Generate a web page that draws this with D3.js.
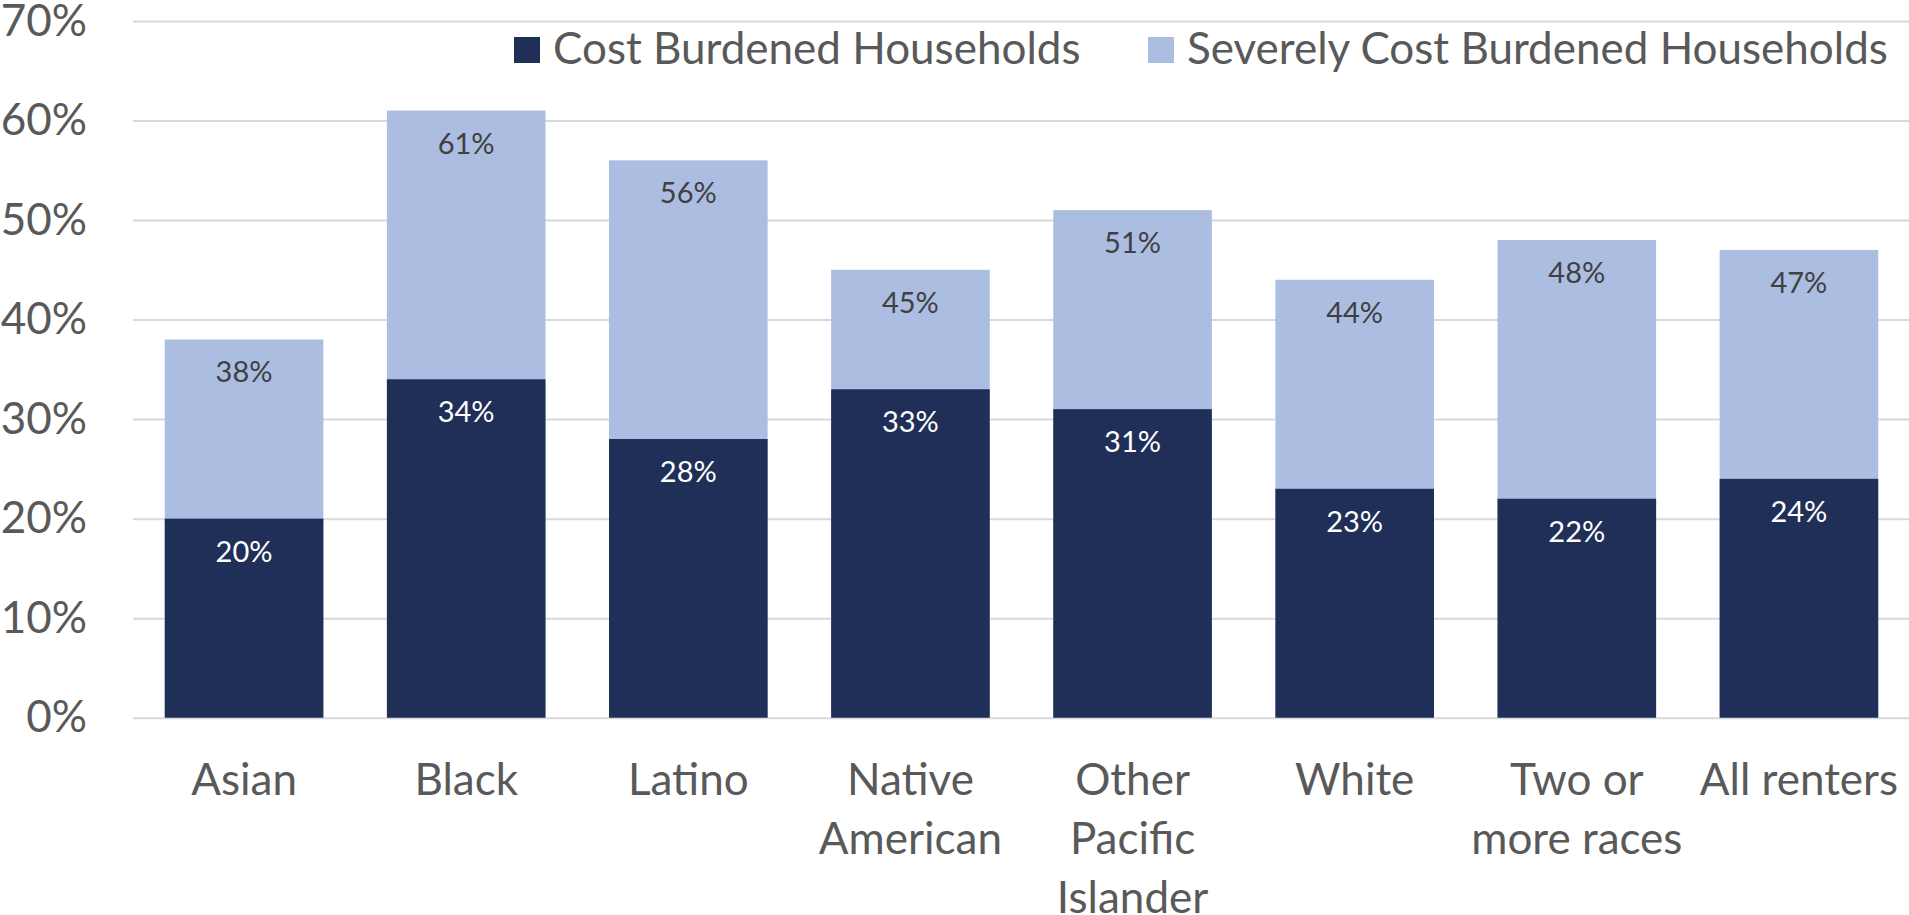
<!DOCTYPE html>
<html>
<head>
<meta charset="utf-8">
<script src="https://cdn.jsdelivr.net/npm/d3@7"></script>
<style>
	body { margin: 0; background: #fff; }
	svg { display: block; font-family: Lato, "Open Sans", sans-serif; }
</style>
</head>
<body>
<svg></svg>
<script>
// data........................................................................

var categories = ["Asian", "Black", "Latino", "Native\nAmerican",
	"Other\nPacific\nIslander", "White", "Two or\nmore races", "All renters"];
var costBurdened = [20, 34, 28, 33, 31, 23, 22, 24];
var severelyBurdened = [38, 61, 56, 45, 51, 44, 48, 47];
var seriesNames = ["Cost Burdened Households", "Severely Cost Burdened Households"];
var yTicks = [0, 10, 20, 30, 40, 50, 60, 70];

// setup.......................................................................

var width = 1909, height = 915,
	plotLeft = 133, plotRight = 1910, plotTop = 21, plotBottom = 717.7,
	dark = "#1f2f57", light = "#abbde1", grey = "#595959";

var svg = d3.select("svg")
	.attr("width", width)
	.attr("height", height);

var x = d3.scaleBand()
	.domain(categories)
	.range([plotLeft, plotRight])
	.paddingInner(0.286)
	.paddingOuter(0.143);

var y = d3.scaleLinear()
	.domain([0, 70])
	.range([plotBottom, plotTop]);

// y axis with gridlines
var yAxis = svg.append("g")
	.attr("transform", "translate(" + plotLeft + ",0)")
	.call(d3.axisLeft(y)
		.tickValues(yTicks)
		.tickSize(-(width - plotLeft))
		.tickPadding(46)
		.tickFormat(function(d) { return d + "%"; }));

yAxis.select(".domain").remove();
yAxis.selectAll(".tick line")
	.attr("stroke", "#d9d9d9")
	.attr("stroke-width", 2);
yAxis.selectAll(".tick text")
	.attr("fill", grey)
	.style("font-size", "44px")
	.style("font-family", "Lato, sans-serif");

// bars: light total behind, dark share in front
var bars = svg.append("g");

bars.selectAll("rect.sev")
	.data(severelyBurdened)
	.enter().append("rect")
		.attr("class", "sev")
		.attr("x", function(d, i) { return x(categories[i]); })
		.attr("y", function(d) { return y(d); })
		.attr("width", x.bandwidth())
		.attr("height", function(d) { return y(0) - y(d); })
		.attr("fill", light);

bars.selectAll("rect.cost")
	.data(costBurdened)
	.enter().append("rect")
		.attr("class", "cost")
		.attr("x", function(d, i) { return x(categories[i]); })
		.attr("y", function(d) { return y(d); })
		.attr("width", x.bandwidth())
		.attr("height", function(d) { return y(0) - y(d); })
		.attr("fill", dark);

// data labels
var labels = svg.append("g")
	.attr("text-anchor", "middle")
	.style("font-size", "29px");

labels.selectAll("text.sev")
	.data(severelyBurdened)
	.enter().append("text")
		.attr("class", "sev")
		.attr("x", function(d, i) { return x(categories[i]) + x.bandwidth() / 2; })
		.attr("y", function(d) { return y(d) + 43; })
		.attr("fill", "#404040")
		.text(function(d) { return d + "%"; });

labels.selectAll("text.cost")
	.data(costBurdened)
	.enter().append("text")
		.attr("class", "cost")
		.attr("x", function(d, i) { return x(categories[i]) + x.bandwidth() / 2; })
		.attr("y", function(d) { return y(d) + 43; })
		.attr("fill", "#ffffff")
		.text(function(d) { return d + "%"; });

// category labels
var catLabels = svg.append("g")
	.attr("text-anchor", "middle")
	.attr("fill", grey)
	.style("font-size", "44px");

catLabels.selectAll("text")
	.data(categories)
	.enter().append("text")
		.attr("x", function(d) { return x(d) + x.bandwidth() / 2; })
		.attr("y", plotBottom + 77)
		.each(function(d) {
			var t = d3.select(this);
			d.split("\n").forEach(function(line, i) {
				t.append("tspan")
					.attr("x", x(d) + x.bandwidth() / 2)
					.attr("dy", i ? 59 : 0)
					.text(line);
			});
		});

// legend
var legendPos = [514, 1148];
var legend = svg.append("g")
	.selectAll("g")
	.data(seriesNames)
	.enter().append("g")
		.attr("transform", function(d, i) { return "translate(" + legendPos[i] + ",37)"; });

legend.append("rect")
	.attr("width", 26)
	.attr("height", 26)
	.attr("fill", function(d, i) { return i ? light : dark; });

legend.append("text")
	.attr("x", 39)
	.attr("y", 27)
	.attr("fill", grey)
	.style("font-size", "44px")
	.text(function(d) { return d; });
</script>
</body>
</html>
